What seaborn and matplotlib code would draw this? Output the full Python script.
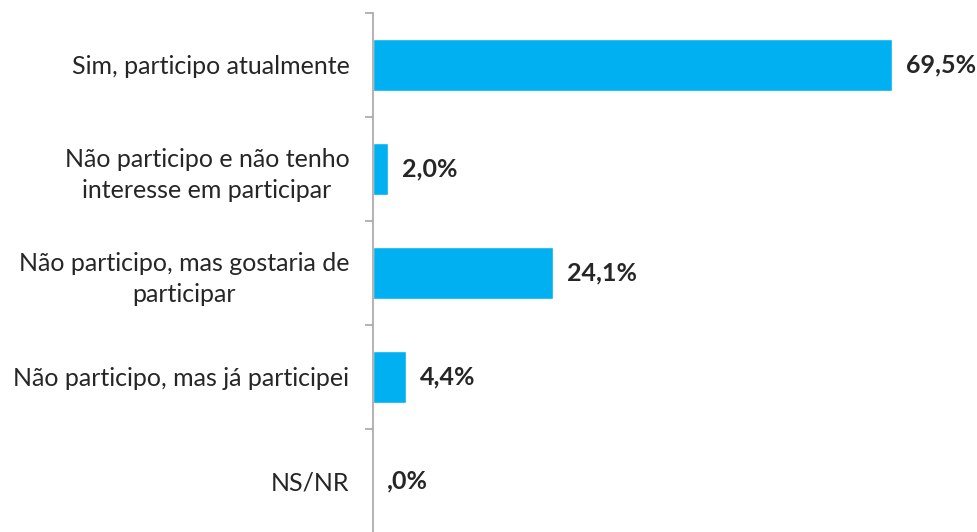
import matplotlib
matplotlib.use("Agg")
import matplotlib.pyplot as plt
import seaborn as sns
import pandas as pd
import numpy as np

categories = [
    "Sim, participo atualmente",
    "Não participo e não tenho\ninteresse em participar",
    "Não participo, mas gostaria de\nparticipar",
    "Não participo, mas já participei",
    "NS/NR",
]
values = [69.5, 2.0, 24.1, 4.4, 0.0]
value_labels = ["69,5%", "2,0%", "24,1%", "4,4%", ",0%"]

sns.set_theme(style="white")
plt.rcParams["font.family"] = ["Lato", "DejaVu Sans"]

df = pd.DataFrame({"categoria": categories, "valor": values})

fig = plt.figure(figsize=(9.78, 5.32), dpi=100)
ax = fig.add_axes([373 / 978, -1 / 532, 605 / 978, 520 / 532])

sns.barplot(data=df, x="valor", y="categoria", color="#00B0F0",
            width=0.5, saturation=1, ax=ax, orient="h")

ax.set_xlim(0, 81.0)
ax.set_ylim(len(categories) - 0.5, -0.5)
ax.set_xlabel("")
ax.set_ylabel("")
ax.set_xticks([])

for s in ["top", "right", "bottom"]:
    ax.spines[s].set_visible(False)
ax.spines["left"].set_color("#A6A6A6")
ax.spines["left"].set_linewidth(1.2)

# category labels without major tick marks; boundary ticks as minor ticks
ax.tick_params(axis="y", which="major", left=True, length=0, pad=17,
               labelsize=18, labelcolor="#262626")
ax.set_yticks(np.arange(-0.5, len(categories), 1.0), minor=True)
ax.tick_params(axis="y", which="minor", left=True, length=6, width=1.2,
               color="#A6A6A6")
for lbl in ax.get_yticklabels():
    lbl.set_linespacing(1.4)
    lbl.set_multialignment("center")

for i, (v, t) in enumerate(zip(values, value_labels)):
    ax.annotate(t, xy=(v, i), xytext=(10, 0), textcoords="offset points",
                va="center", ha="left", fontsize=18, fontweight="bold",
                color="#262626")

fig.savefig("out.png", dpi=100)
